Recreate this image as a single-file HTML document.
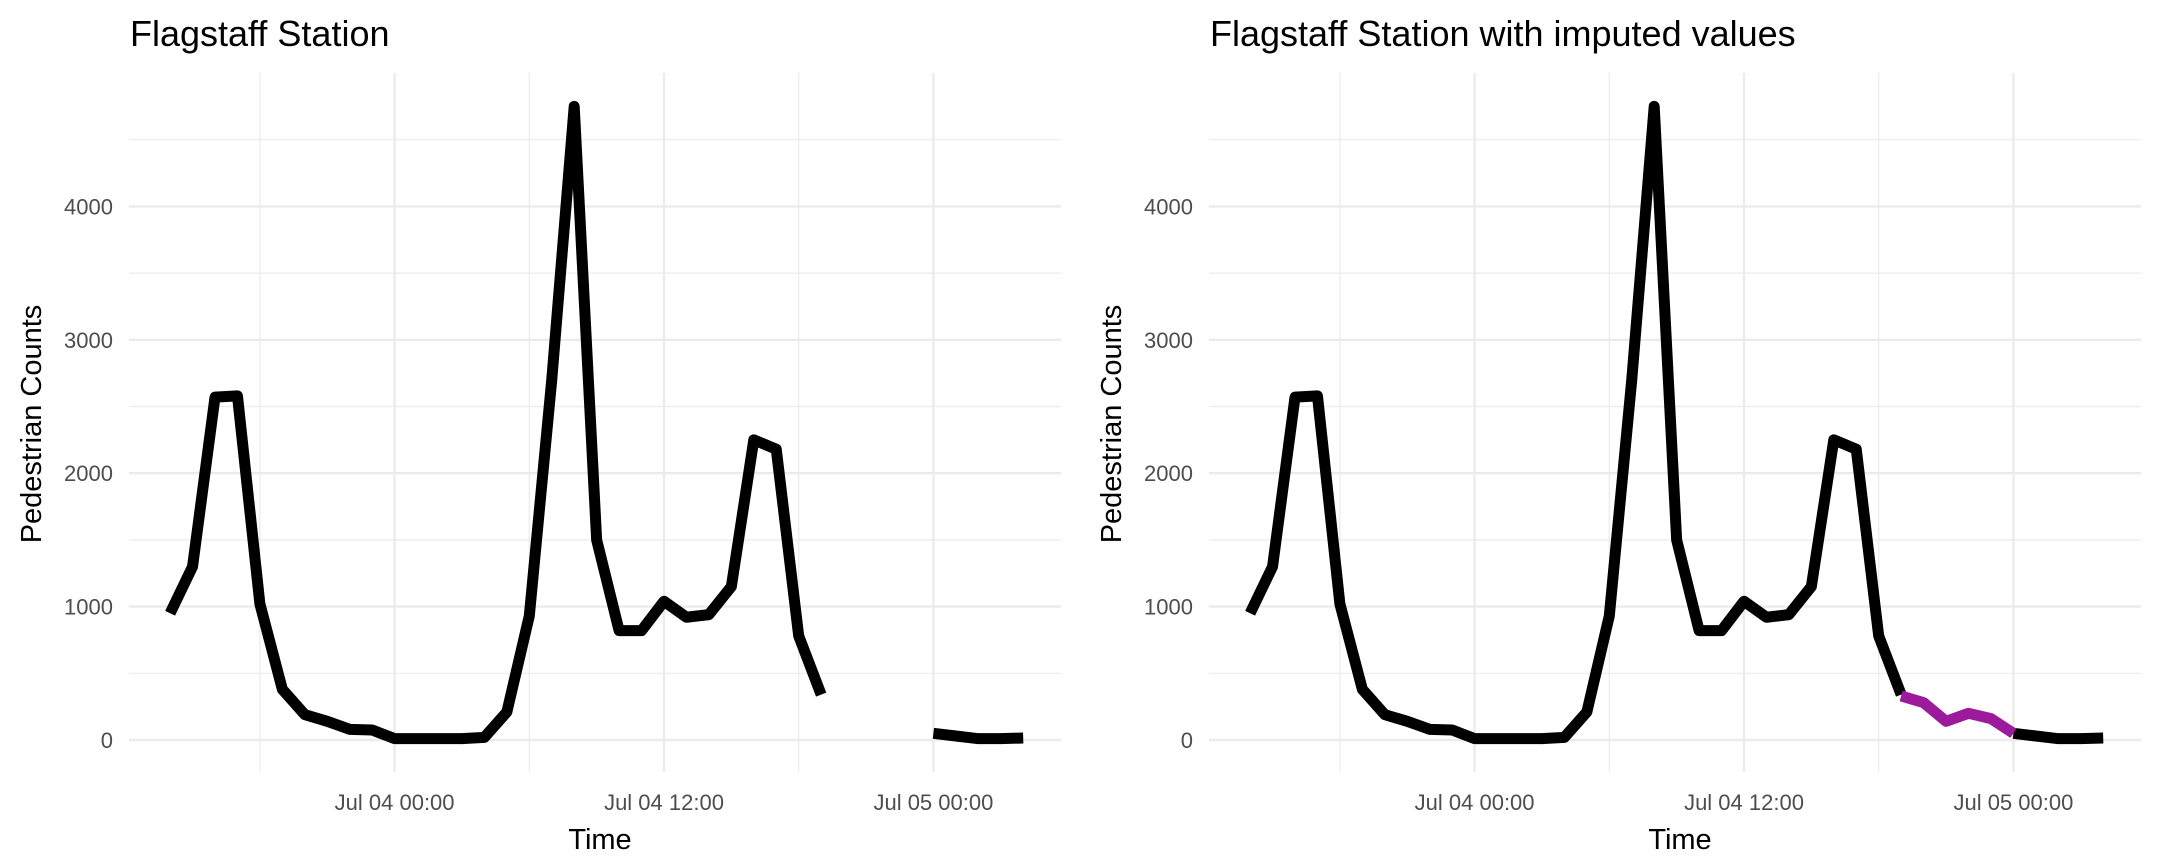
<!DOCTYPE html>
<html><head><meta charset="utf-8">
<style>
body{margin:0;background:#fff;}
svg{display:block;font-family:"Liberation Sans",sans-serif;}
</style></head>
<body>
<svg id="chart" width="2160" height="864" viewBox="0 0 2160 864" xmlns="http://www.w3.org/2000/svg"></svg>
<script>
// Hours relative to Jul 04 00:00
const hours = [-10,-9,-8,-7,-6,-5,-4,-3,-2,-1,0,1,2,3,4,5,6,7,8,9,10,11,12,13,14,15,16,17,18,19,20,21,22,23,24,25,26,27,28];
const counts = [950,1300,2570,2580,1020,380,190,140,80,75,10,10,10,10,20,210,930,2700,4750,1500,820,820,1040,920,940,1150,2250,2180,780,340,null,null,null,null,50,30,10,10,15];
const imputedHours = [19,20,21,22,23,24];
const imputedCounts = [330,280,140,200,160,50];
const yTicks = [0,1000,2000,3000,4000];
const yMinor = [500,1500,2500,3500,4500];
const xTicks = [0,12,24];
const xTickLabels = ["Jul 04 00:00","Jul 04 12:00","Jul 05 00:00"];
const xMinor = [-6,6,18];
const titles = ["Flagstaff Station","Flagstaff Station with imputed values"];

const NS="http://www.w3.org/2000/svg";
const svg=document.getElementById('chart');
function mk(tag,attrs,parent){const e=document.createElementNS(NS,tag);for(const k in attrs)e.setAttribute(k,attrs[k]);parent.appendChild(e);return e;}
const L=129,R=1061,T=73,B=772;
function xs(h){return 394.6+h*22.45;}
function ys(v){return 740-v*0.1334;}

titles.forEach((title,p)=>{
  const g=mk('g',{transform:`translate(${p*1080},0)`},svg);
  
  
  yMinor.forEach(v=>{const l=mk('line',{x1:L,x2:R,y1:ys(v),y2:ys(v),stroke:'#ebebeb','stroke-width':1.2},g);
    });
  xMinor.forEach(h=>{const l=mk('line',{x1:xs(h),x2:xs(h),y1:T,y2:B,stroke:'#ebebeb','stroke-width':1.2},g);
    });
  yTicks.forEach(v=>{const l=mk('line',{x1:L,x2:R,y1:ys(v),y2:ys(v),stroke:'#ebebeb','stroke-width':2.4},g);
    
    const t=mk('text',{x:113,y:ys(v)+8,'text-anchor':'end','font-size':22,fill:'#4d4d4d'},g);t.textContent=v;
    });
  xTicks.forEach((h,i)=>{const l=mk('line',{x1:xs(h),x2:xs(h),y1:T,y2:B,stroke:'#ebebeb','stroke-width':2.4},g);
    
    const t=mk('text',{x:xs(h),y:810,'text-anchor':'middle','font-size':22,fill:'#4d4d4d'},g);t.textContent=xTickLabels[i];
    });
  let segs=[],cur=[];
  hours.forEach((h,i)=>{if(counts[i]==null){if(cur.length)segs.push(cur);cur=[];}else cur.push([xs(h),ys(counts[i])]);});
  if(cur.length)segs.push(cur);
  segs.forEach(s=>{const pl=mk('polyline',{points:s.map(q=>q.join(',')).join(' '),fill:'none',stroke:'#000','stroke-width':11,'stroke-linejoin':'round'},g);
    });
  if(p===1){
    const pl=mk('polyline',{points:imputedHours.map((h,i)=>xs(h)+','+ys(imputedCounts[i])).join(' '),fill:'none',stroke:'#9c1a9c','stroke-width':11,'stroke-linejoin':'round'},g);
    
  }
  const tt=mk('text',{x:130,y:46,'font-size':36,fill:'#000'},g);tt.textContent=title;
  
  const xt=mk('text',{x:600,y:849,'text-anchor':'middle','font-size':29,fill:'#000'},g);xt.textContent='Time';
  
  const yt=mk('text',{x:0,y:0,'text-anchor':'middle','font-size':29,fill:'#000',transform:'translate(41,424) rotate(-90)'},g);yt.textContent='Pedestrian Counts';
  
});
</script>
</body></html>
